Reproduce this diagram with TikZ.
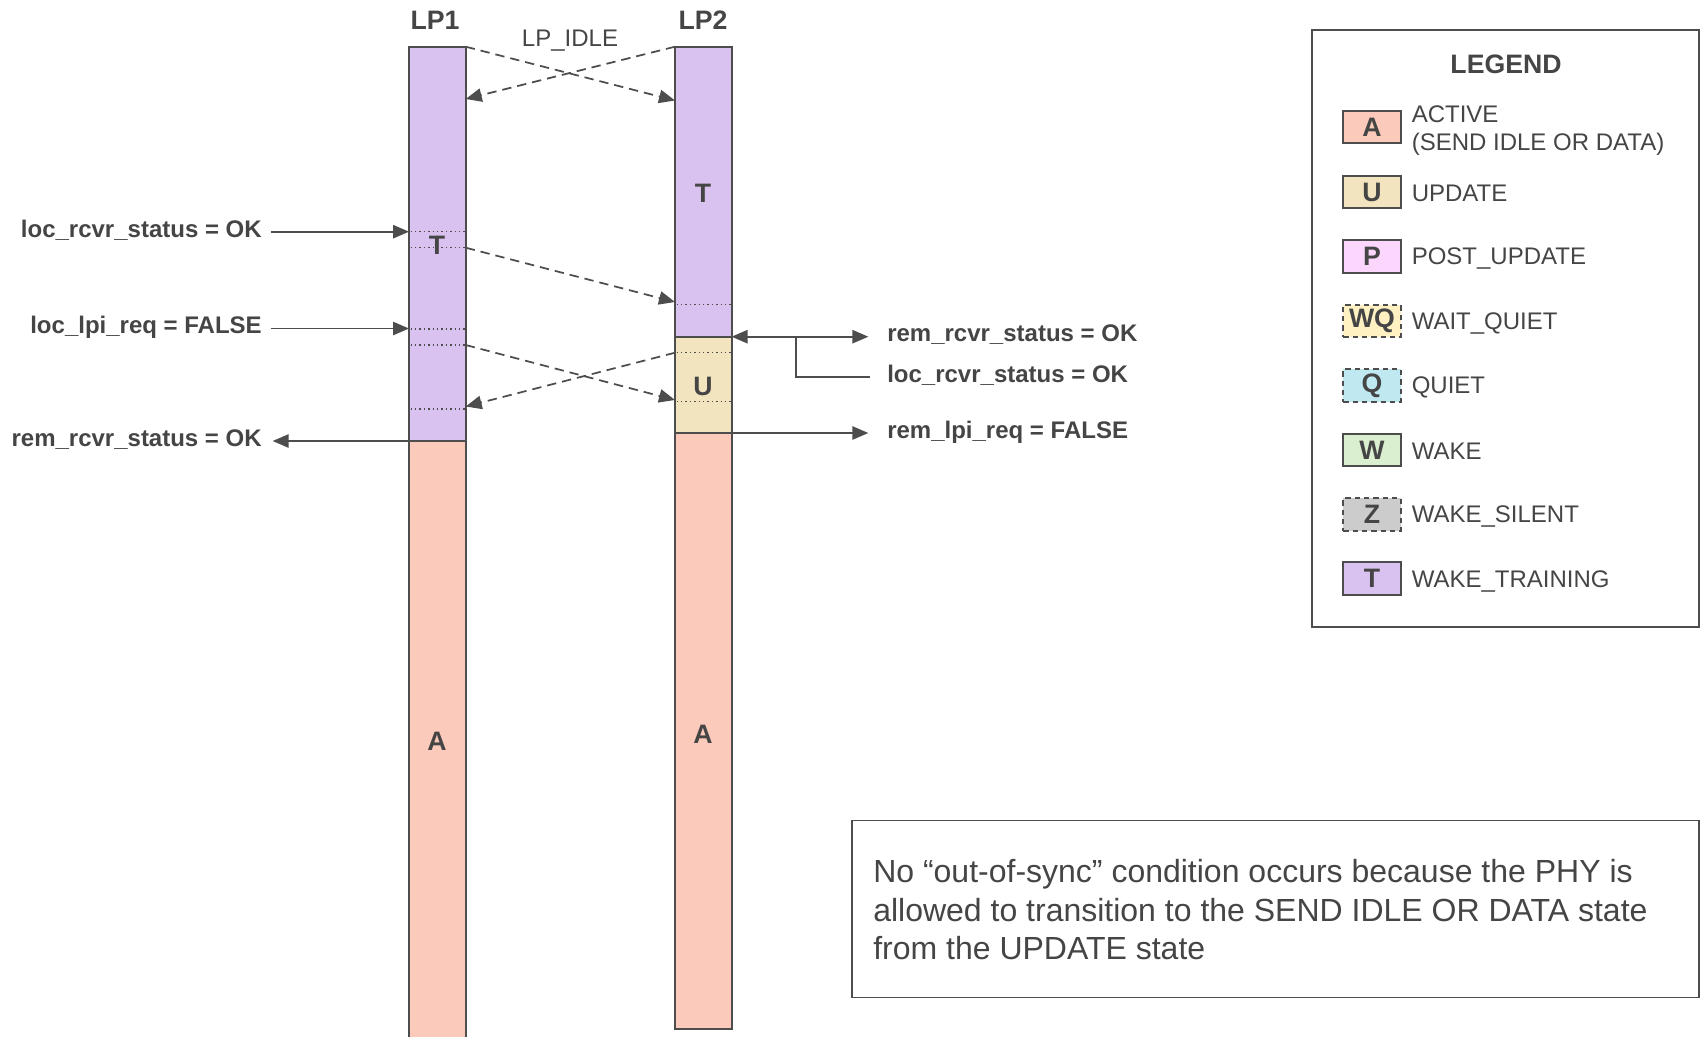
\documentclass[tikz,border=0pt]{standalone}
\usepackage{fontspec}
\setmainfont{Liberation Sans}
\usetikzlibrary{arrows.meta}

\definecolor{ink}{HTML}{4D4D4D}
\definecolor{txt}{HTML}{454545}
\definecolor{trainc}{HTML}{D9C2EF}
\definecolor{activec}{HTML}{FCCABB}
\definecolor{updc}{HTML}{F3E4C0}
\definecolor{postc}{HTML}{FDD6FD}
\definecolor{wqc}{HTML}{FFF1C2}
\definecolor{quietc}{HTML}{BFE8F1}
\definecolor{wakec}{HTML}{DAEFCF}
\definecolor{silc}{HTML}{CCCCCC}

\newcommand\sigfont{\fontsize{18pt}{21.5pt}\selectfont}
\newcommand\bigfont{\fontsize{20pt}{24pt}\selectfont}
\newcommand\notefont{\fontsize{24pt}{28.9pt}\selectfont}

\tikzset{
  barseg/.style={draw=ink, line width=1.5pt},
  dotline/.style={draw=ink, line width=1.1pt, dash pattern=on 1.1pt off 2.2pt},
  msg/.style={draw=ink, line width=1.3pt, dash pattern=on 7pt off 4.5pt,
              -{Triangle[length=12pt,width=10pt]}},
  sig/.style={draw=ink, line width=1.3pt, -{Triangle[length=12pt,width=10pt]}},
  sigboth/.style={draw=ink, line width=1.3pt,
              {Triangle[length=12pt,width=10pt]}-{Triangle[length=12pt,width=10pt]}},
  sigtxt/.style={text=txt, font=\sigfont\bfseries, inner sep=0pt},
  barlbl/.style={text=txt, font=\bigfont\bfseries, inner sep=0pt},
  swatch/.style={draw=ink, line width=1.5pt, minimum width=43pt, minimum height=24.5pt,
                 inner sep=0pt, text=txt, font=\bigfont\bfseries},
  swatchd/.style={swatch, dash pattern=on 4pt off 3pt},
  legtxt/.style={text=txt, font=\sigfont, inner sep=0pt, anchor=west, align=left},
  frame/.style={draw=ink, line width=1.3pt},
}

\begin{document}
\begin{tikzpicture}[x=0.75pt,y=-0.75pt]
\useasboundingbox (0,0) rectangle (1702,1036);

% ---- lane bars ----
\filldraw[barseg, fill=activec] (409,441) rectangle (465.7,1040);
\filldraw[barseg, fill=trainc]  (409,46.7) rectangle (465.7,441);
\filldraw[barseg, fill=activec] (675,433) rectangle (731.6,1029);
\filldraw[barseg, fill=updc]    (675,337) rectangle (731.6,433);
\filldraw[barseg, fill=trainc]  (675,46.7) rectangle (731.6,337);

% dotted time marks inside the bars
\foreach \yy in {231.7,247.7,329,345,409}
  \draw[dotline] (410.5,\yy) -- (464.5,\yy);
\foreach \yy in {304.3,352.7,401.7}
  \draw[dotline] (676.5,\yy) -- (730.5,\yy);

% ---- headings and state letters ----
\node[barlbl] (lp1) at (435,20) {LP1};
\node[barlbl] (lp2) at (703,20) {LP2};
\node[text=txt, font=\sigfont, inner sep=0pt] (lpidle) at (570,41) {LP\_IDLE};
\node[barlbl] (t1) at (437,245) {T};
\node[barlbl] (a1) at (437,741) {A};
\node[barlbl] (t2) at (703,193) {T};
\node[barlbl] (u2) at (703,386) {U};
\node[barlbl] (a2) at (703,734) {A};

% ---- attachment points on the bars ----
\coordinate (p1top) at (465.7,46.7);
\coordinate (p2top) at (675,46.7);
\coordinate (p1a)   at (465.7,99);
\coordinate (p2a)   at (675,100.5);
\coordinate (p1b)   at (465.7,247.7);
\coordinate (p2b)   at (675,302);
\coordinate (p1c)   at (465.7,345);
\coordinate (p2c)   at (675,400);
\coordinate (p2d)   at (675,352.7);
\coordinate (p1d)   at (465.7,406.5);

% ---- exchanged signals ----
\draw[msg] (p1top) -- (p2a);
\draw[msg] (p2top) -- (p1a);
\draw[msg] (p1b) -- (p2b);
\draw[msg] (p1c) -- (p2c);
\draw[msg] (p2d) -- (p1d);

% ---- LP1 side variables ----
\node[sigtxt, anchor=east] (l1) at (262,230) {loc\_rcvr\_status = OK};
\node[sigtxt, anchor=east] (l2) at (262,327) {loc\_lpi\_req = FALSE};
\node[sigtxt, anchor=east] (l3) at (262,440) {rem\_rcvr\_status = OK};
\coordinate (e1) at (409,231.7);
\coordinate (e2) at (409,328.5);
\coordinate (e3) at (409,441);
\draw[sig] ([xshift=7pt]l1.east |- e1) -- (e1);
\draw[sig] ([xshift=7pt]l2.east |- e2) -- (e2);
\draw[sig] (e3) -- ([xshift=8pt]l3.east |- e3);

% ---- LP2 side variables ----
\node[sigtxt, anchor=west] (r1) at (887,335) {rem\_rcvr\_status = OK};
\node[sigtxt, anchor=west] (r2) at (887,375) {loc\_rcvr\_status = OK};
\node[sigtxt, anchor=west] (r3) at (887,432) {rem\_lpi\_req = FALSE};
\coordinate (f1) at (731.6,336.7);
\coordinate (f3) at (731.6,433);
\coordinate (fork) at (796,336.7);
\draw[sigboth] (f1) -- ([xshift=-14pt]r1.west |- f1);
\draw[draw=ink, line width=1.3pt] (fork) |- ([xshift=-13pt]r2.west |- 0,377);
\draw[sig] (f3) -- ([xshift=-14pt]r3.west |- f3);

% ---- legend ----
\draw[frame] (1312,30) rectangle (1699,626.7);
\node[text=txt, font=\bigfont\bfseries, inner sep=0pt] (legtitle) at (1506,64) {LEGEND};
\node[swatch,  fill=activec] (sA) at (1372,127) {A};
\node[swatch,  fill=updc]    (sU) at (1372,192) {U};
\node[swatch,  fill=postc]   (sP) at (1372,256.5) {P};
\node[swatchd, fill=wqc]     (sWQ) at (1372,321) {WQ};
\node[swatchd, fill=quietc]  (sQ) at (1372,385.5) {Q};
\node[swatch,  fill=wakec]   (sW) at (1372,450) {W};
\node[swatchd, fill=silc]    (sZ) at (1372,514.5) {Z};
\node[swatch,  fill=trainc]  (sT) at (1372,578.5) {T};
\node[legtxt] (tA1) at (1411.5,114) {ACTIVE};
\node[legtxt] (tA2) at (1411.5,144) {(SEND IDLE OR DATA)};
\node[legtxt] (tU) at (1411.5,193.5) {UPDATE};
\node[legtxt] (tP) at (1411.5,258.5) {POST\_UPDATE};
\node[legtxt] (tWQ) at (1411.5,323) {WAIT\_QUIET};
\node[legtxt] (tQ) at (1411.5,387.5) {QUIET};
\node[legtxt] (tW) at (1411.5,451.5) {WAKE};
\node[legtxt] (tZ) at (1411.5,516.5) {WAKE\_SILENT};
\node[legtxt] (tT) at (1411.5,581) {WAKE\_TRAINING};

% ---- explanatory note ----
\draw[frame] (852,820.6) rectangle (1699,997.5);
\node[text=txt, font=\notefont, inner sep=0pt, anchor=north west, align=left] (note) at (873,859)
  {No “out-of-sync” condition occurs because the PHY is\\
   allowed to transition to the SEND IDLE OR DATA state\\
   from the UPDATE state};
\end{tikzpicture}
\end{document}
